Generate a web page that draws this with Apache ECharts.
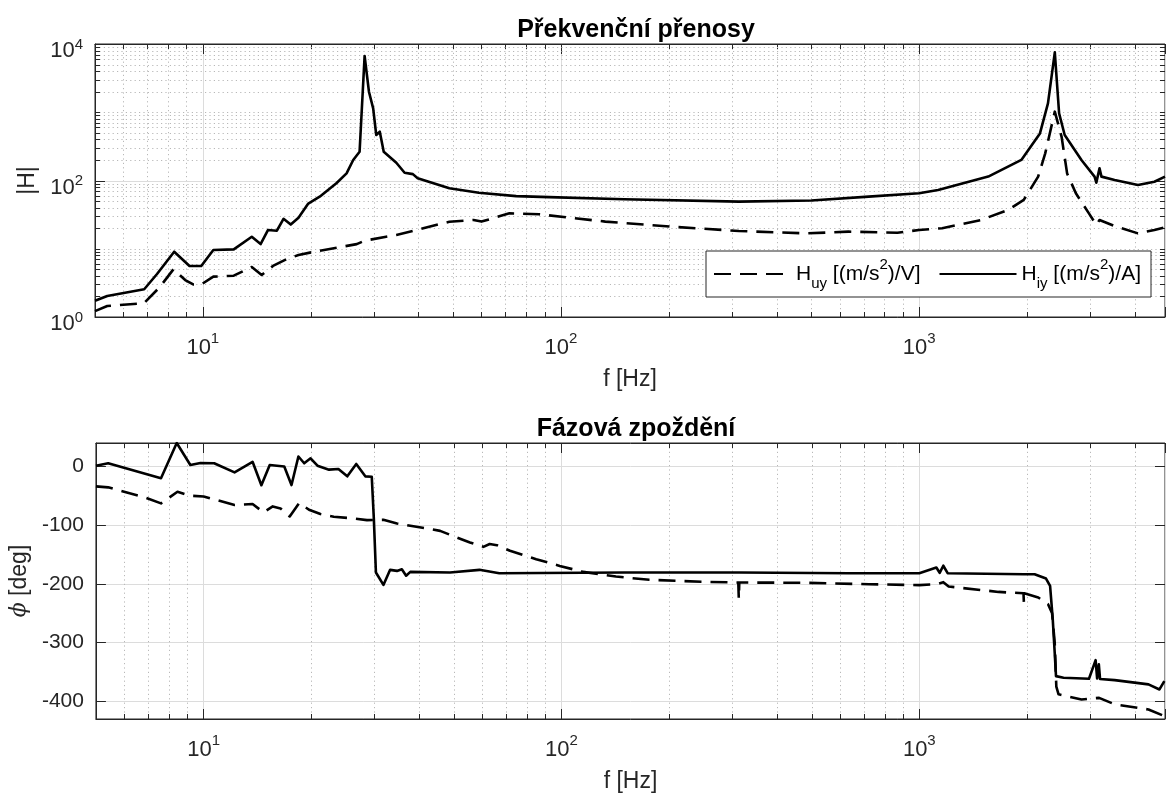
<!DOCTYPE html>
<html><head><meta charset="utf-8">
<script src="https://cdn.jsdelivr.net/npm/echarts@6/dist/echarts.min.js"></script>
<style>html,body{margin:0;padding:0;background:#fff}#c{width:1168px;height:796px}</style>
</head><body><div id="c"></div><script>
const FONT = '"Liberation Sans", Arial, Helvetica, sans-serif';

// ---------------- data ----------------
const freqMagUy = [5, 5.41, 6.85, 7.6, 8.28, 8.93, 9.4, 9.9, 10.7, 12.2, 13.7, 14.6, 15.7, 17.1, 18.5, 20.1, 26.9, 28.3, 32.5, 34.7, 39.4, 48.8, 57, 60, 71.8, 87, 133, 205, 314, 481, 635, 870, 1000, 1160, 1490, 1770, 1960, 2150, 2250, 2393, 2500, 2590, 2740, 2980, 3125, 3190, 3515, 4085, 4540, 4860];
const magUy = [1.22, 1.45, 1.59, 2.78, 5.0, 3.48, 3.0, 3.0, 3.9, 4.03, 5.4, 4.12, 5.6, 7.0, 8.1, 8.87, 11.7, 13.1, 15.0, 15.9, 18.8, 24.9, 26.4, 25, 33, 32, 25, 21, 18.2, 16.8, 17.8, 17.2, 18.8, 20, 26.4, 37, 52, 114, 250, 1020, 437, 127, 65, 33, 22.3, 26.4, 21.5, 16.8, 18.8, 20.6];

const freqMagIy = [5, 5.41, 6.86, 7.45, 8.32, 9.18, 9.9, 10.7, 12.2, 13.7, 14.5, 15.2, 16.1, 16.8, 17.6, 18.5, 19.7, 21.2, 23.6, 25.2, 26.3, 27.4, 28.3, 29.1, 29.9, 30.5, 31.2, 32, 34.7, 36.6, 38.6, 39.8, 48.8, 59, 75, 92.7, 150, 314, 500, 723, 1000, 1130, 1560, 1930, 2175, 2290, 2393, 2460, 2550, 2840, 3090, 3125, 3190, 3230, 3515, 4085, 4540, 4860];
const magIy = [1.73, 2.03, 2.55, 4.27, 9.05, 5.59, 5.59, 9.6, 9.8, 15.0, 11.7, 18.8, 18.4, 27.5, 22.6, 28.5, 46, 58, 91, 127, 200, 264, 6670, 2000, 1140, 464, 519, 264, 182, 130, 124, 108, 77, 66, 59, 57, 53, 49, 51, 58, 65, 72.6, 114, 200, 490, 1350, 7550, 966, 464, 200, 114, 93, 151, 114, 102, 86, 96, 114];

const freqPhUy = [5, 5.41, 6.85, 7.6, 8.45, 9.18, 10, 12.2, 13.7, 14.7, 15.6, 16.4, 17.4, 18.5, 19.7, 21.2, 23.1, 25.7, 28.6, 31.8, 34.7, 37.8, 43, 45.8, 51, 55.5, 60.5, 63, 66, 71.8, 85, 98.9, 115, 142, 176, 254, 312, 313, 314, 481, 723, 1000, 1116, 1167, 1208, 1665, 1955, 1960, 1965, 2150, 2290, 2350, 2390, 2415, 2450, 2840, 3180, 3515, 4370, 4840];
const phaseUy = [-33.8, -35.5, -52.6, -62.8, -43, -49.8, -51, -65.7, -64, -78, -68, -71.4, -85, -62, -73.7, -81, -85.6, -87.9, -91.3, -90.8, -97, -101, -106.7, -109.6, -120.8, -129.4, -136.8, -132, -134, -143.6, -157.8, -169.3, -179.5, -187.4, -193, -196.5, -197.6, -225, -197.6, -198, -200.5, -202, -200.5, -197, -204.4, -213.6, -215.9, -231, -216, -223, -234.6, -250, -300, -375, -388, -396.8, -394, -405, -413.8, -425];

const freqPhIy = [5, 5.41, 7.6, 8.41, 9.18, 9.8, 10.7, 12.2, 13.7, 14.5, 15.3, 16.8, 17.6, 18.4, 19.1, 19.9, 20.8, 22.4, 23.8, 25.2, 26.7, 28.3, 29.5, 29.9, 30.3, 31.8, 33.2, 34.7, 35.8, 36.8, 37.8, 48.8, 59, 67, 150, 314, 635, 1000, 1116, 1140, 1167, 1200, 1960, 2100, 2260, 2320, 2360, 2390, 2410, 2530, 2980, 3110, 3140, 3175, 3200, 3515, 4370, 4690, 4840];
const phaseIy = [1.4, 5.5, -20, 40, 2.5, 6, 5.5, -10, 8, -32, 2.6, 0, -31.6, 17, 5.5, 14, 1.4, -5.4, -4.3, -16.8, 4.3, -16.8, -17.4, -89.6, -180.5, -201.7, -176, -177.8, -175, -186, -179.5, -180.5, -176, -181.7, -180.5, -180.5, -181.7, -181.7, -172, -181, -169, -181.7, -183.4, -183.4, -190.8, -203.4, -260, -317, -357, -359.8, -361.5, -329.7, -361, -337, -362, -363.8, -371, -379.7, -365.5];

// tick labels
const xTickExponents = [1, 2, 3];
const magTickExponents = [0, 2, 4];
const phaseTicks = [-400, -300, -200, -100, 0];

const legendNames = {
  'H_uy': '{m|H}{sub|uy}{m| [(m/s}{sup|2}{m|)/V]}',
  'H_iy': '{m|H}{sub|iy}{m| [(m/s}{sup|2}{m|)/A]}'
};

// ---------------- helpers ----------------
const zip = (xs, ys) => xs.map((x, i) => [x, ys[i]]);
const isPow = (v, exps) => {
  const e = Math.round(Math.log10(v));
  return (Math.abs(v - Math.pow(10, e)) < 1e-6 * v && exps.indexOf(e) >= 0) ? e : null;
};
const xMinor = [];
[1, 10, 100, 1000].forEach(d => { for (let m = 2; m <= 9; m++) { const v = m * d; if (v > 5 && v < 4860) xMinor.push(v); } });
const yMinor = [];
[1, 10, 100, 1000].forEach(d => { for (let m = 2; m <= 9; m++) yMinor.push(m * d); });
yMinor.push(10, 1000);

const tickRich = (lh, supLh) => ({
  b: {fontSize: 22, fontFamily: FONT, color: '#262626', lineHeight: lh, verticalAlign: 'middle'},
  sup: {fontSize: 15, fontFamily: FONT, color: '#262626', lineHeight: supLh, verticalAlign: 'top'}
});

function gridRender(params, api) {
  const cs = params.coordSys;
  const kind = api.value(2);
  const x0 = cs.x, x1 = cs.x + cs.width, y0 = cs.y, y1 = cs.y + cs.height;
  const minorStyle = {stroke: '#b8b8b8', lineWidth: 1, lineDash: [1.2, 3.2], fill: null};
  const majorStyle = {stroke: '#dcdcdc', lineWidth: 1, fill: null};
  const tickStyle = {stroke: '#262626', lineWidth: 1, fill: null};
  const c = [];
  if (kind === 0) {
    const p = Math.round(api.coord([api.value(0), api.value(1)])[0]) + 0.5;
    c.push({type: 'line', shape: {x1: p, y1: y0, x2: p, y2: y1}, style: minorStyle});
    c.push({type: 'line', shape: {x1: p, y1: y1, x2: p, y2: y1 - 5}, style: tickStyle});
    c.push({type: 'line', shape: {x1: p, y1: y0, x2: p, y2: y0 + 5}, style: tickStyle});
  } else {
    const p = Math.round(api.coord([api.value(0), api.value(1)])[1]) + 0.5;
    const len = kind === 2 ? 10 : 5;
    c.push({type: 'line', shape: {x1: x0, y1: p, x2: x1, y2: p}, style: kind === 2 ? majorStyle : minorStyle});
    c.push({type: 'line', shape: {x1: x0, y1: p, x2: x0 + len, y2: p}, style: tickStyle});
    c.push({type: 'line', shape: {x1: x1, y1: p, x2: x1 - len, y2: p}, style: tickStyle});
  }
  return {type: 'group', children: c};
}

const topGridData = xMinor.map(v => [v, 10, 0]).concat(yMinor.map(v => [10, v, 1])).concat([[10, 100, 2]]);
const botGridData = xMinor.map(v => [v, 0, 0]);

const xAxisBase = (gridIndex, pos, showLabels) => ({
  type: 'log', logBase: 10, gridIndex, position: pos, min: 5, max: 4860,
  axisLine: {show: true, onZero: false, lineStyle: {color: '#262626', width: 1}},
  axisTick: {show: true, inside: true, length: 10, lineStyle: {color: '#262626'}},
  minorTick: {show: false},
  splitLine: {show: showLabels, lineStyle: {color: '#dcdcdc', width: 1}},
  axisLabel: showLabels ? {
    show: true, margin: 14, color: '#262626', fontFamily: FONT, fontSize: 22, lineHeight: 34,
    formatter: v => { const e = isPow(v, xTickExponents); return e === null ? '' : '{b|10}{sup|' + e + '}'; },
    rich: tickRich(34, 14)
  } : {show: false},
  name: showLabels ? 'f [Hz]' : '', nameLocation: 'middle', nameGap: 51,
  nameTextStyle: {fontFamily: FONT, fontSize: 23, color: '#262626'}
});

const lineSeries = (name, data, xi, yi, dashed) => ({
  type: 'line', name, data, xAxisIndex: xi, yAxisIndex: yi,
  symbol: 'none', showSymbol: false, smooth: false, z: dashed ? 3 : 4,
  lineStyle: {color: '#000', width: 2.6, type: dashed ? [17, 9] : 'solid', cap: 'butt', join: 'round'},
  itemStyle: {color: '#000'}, emphasis: {disabled: true}, silent: true
});

const option = {
  animation: false,
  backgroundColor: '#ffffff',
  textStyle: {fontFamily: FONT},
  title: [
    {text: 'Překvenční přenosy', left: 631, top: 13, textAlign: 'center',
     textStyle: {fontFamily: FONT, fontSize: 25, fontWeight: 'bold', color: '#000'}},
    {text: 'Fázová zpoždění', left: 631, top: 412, textAlign: 'center',
     textStyle: {fontFamily: FONT, fontSize: 25, fontWeight: 'bold', color: '#000'}}
  ],
  grid: [
    {left: 95, top: 44, width: 1072, height: 273, show: true, borderColor: '#262626', borderWidth: 1, backgroundColor: 'transparent'},
    {left: 95, top: 443, width: 1072, height: 276, show: true, borderColor: '#262626', borderWidth: 1, backgroundColor: 'transparent'}
  ],
  legend: {
    data: ['H_uy', 'H_iy'], left: 706, top: 251, orient: 'horizontal',
    itemWidth: 77, itemHeight: 14, itemGap: 18,
    padding: [6, 10, 6, 7],
    borderColor: '#262626', borderWidth: 1, backgroundColor: '#fff',
    itemStyle: {opacity: 0},
    formatter: n => legendNames[n],
    textStyle: {fontFamily: FONT, fontSize: 21, color: '#000', lineHeight: 34,
      rich: {
        m: {fontSize: 21, fontFamily: FONT, color: '#000', lineHeight: 34, verticalAlign: 'middle'},
        sub: {fontSize: 15, fontFamily: FONT, color: '#000', lineHeight: 15, verticalAlign: 'bottom'},
        sup: {fontSize: 15, fontFamily: FONT, color: '#000', lineHeight: 20, verticalAlign: 'top'}
      }},
    selectedMode: false, z: 20
  },
  xAxis: [
    xAxisBase(0, 'bottom', true),
    xAxisBase(0, 'top', false),
    xAxisBase(1, 'bottom', true),
    xAxisBase(1, 'top', false)
  ],
  yAxis: [
    {type: 'log', logBase: 10, gridIndex: 0, min: 1, max: 10000, position: 'left',
     axisLine: {show: true, lineStyle: {color: '#262626'}},
     axisTick: {show: false}, splitLine: {show: false},
     axisLabel: {margin: 12, color: '#262626', fontFamily: FONT, fontSize: 22, lineHeight: 28,
       padding: [14, 0, 0, 0],
       formatter: v => { const e = isPow(v, magTickExponents); return e === null ? '' : '{b|10}{sup|' + e + '}'; },
       rich: tickRich(28, 14)},
     name: '|H|', nameLocation: 'middle', nameGap: 52, nameRotate: 90,
     nameTextStyle: {fontFamily: FONT, fontSize: 23, color: '#262626'}},
    {type: 'value', gridIndex: 1, min: -430, max: 40, position: 'left',
     axisLine: {show: true, lineStyle: {color: '#262626'}},
     axisTick: {show: true, inside: true, length: 10, lineStyle: {color: '#262626'}},
     splitLine: {show: true, lineStyle: {color: '#dcdcdc'}},
     axisLabel: {margin: 12, color: '#262626', fontFamily: FONT, fontSize: 21,
       formatter: v => phaseTicks.indexOf(Math.round(v)) >= 0 && Math.abs(v - Math.round(v)) < 1e-6 ? String(Math.round(v)) : ''},
     name: '{phi|ϕ} [deg]', nameLocation: 'middle', nameGap: 57, nameRotate: 90,
     nameTextStyle: {fontFamily: FONT, fontSize: 23, color: '#262626',
       rich: {phi: {fontFamily: '"DejaVu Serif", serif', fontStyle: 'italic', fontSize: 22, color: '#262626'}}}},
    {type: 'value', gridIndex: 1, min: -430, max: 40, position: 'right',
     axisLine: {show: false},
     axisTick: {show: true, inside: true, length: 10, lineStyle: {color: '#262626'}},
     splitLine: {show: false}, axisLabel: {show: false}}
  ],
  series: [
    {type: 'custom', name: 'gridTop', xAxisIndex: 0, yAxisIndex: 0, data: topGridData,
     renderItem: gridRender, silent: true, z: 1, encode: {x: 0, y: 1}, clip: false},
    {type: 'custom', name: 'gridBot', xAxisIndex: 2, yAxisIndex: 1, data: botGridData,
     renderItem: gridRender, silent: true, z: 1, encode: {x: 0, y: 1}, clip: false},
    lineSeries('H_uy', zip(freqMagUy, magUy), 0, 0, true),
    lineSeries('H_iy', zip(freqMagIy, magIy), 0, 0, false),
    lineSeries('H_uy', zip(freqPhUy, phaseUy), 2, 1, true),
    lineSeries('H_iy', zip(freqPhIy, phaseIy), 2, 1, false)
  ]
};

const chart = echarts.init(document.getElementById('c'), null, {renderer: 'canvas'});
chart.setOption(option);
</script></body></html>
